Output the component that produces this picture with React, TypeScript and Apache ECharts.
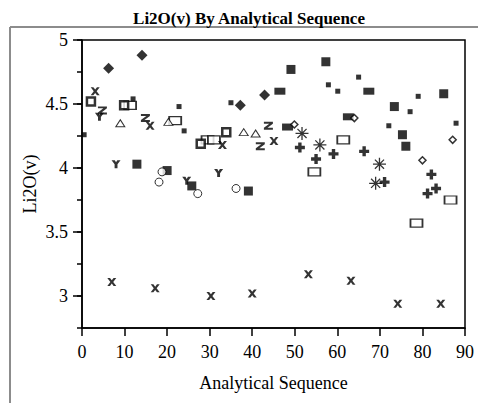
import React, { useEffect, useRef } from 'react';
import * as echarts from 'echarts';

const titleText = 'Li2O(v) By Analytical Sequence';
const xName = 'Analytical Sequence';
const yName = 'Li2O(v)';
const xTickValues = [0, 10, 20, 30, 40, 50, 60, 70, 80, 90];
const yMajorTicks = [3, 3.5, 4, 4.5, 5];
const yMinorTicks = [2.75, 3, 3.25, 3.5, 3.75, 4, 4.25, 4.5, 4.75, 5];

const filledDiamond = [[6.25, 4.78], [14.1, 4.88], [37.2, 4.49], [42.9, 4.57]];
const crossMarks = [[3.1, 4.6], [16, 4.33], [33, 4.18], [45.1, 4.21]];
const lowCross = [[7.0, 3.11], [17.2, 3.06], [30.3, 3.0], [40.0, 3.02], [53.2, 3.17], [63.2, 3.12], [74.2, 2.94], [84.3, 2.94]];
const openSquare = [[2.1, 4.52], [9.9, 4.49], [27.9, 4.19], [33.9, 4.28]];
const openRect = [[11.3, 4.49], [21.9, 4.37], [29.5, 4.22], [31.0, 4.22], [54.6, 3.97], [61.4, 4.22], [78.6, 3.57], [86.6, 3.75]];
const smallSquare = [[0.5, 4.26], [12, 4.54], [22.8, 4.48], [24, 4.29], [35, 4.51], [57.9, 4.65], [60.1, 4.6], [65, 4.71], [72.1, 4.33], [77.1, 4.44], [79, 4.56], [87.9, 4.35]];
const bigSquare = [[12.9, 4.03], [20, 3.98], [25.8, 3.86], [39.1, 3.82], [49.1, 4.77], [57.3, 4.83], [73.4, 4.48], [75.3, 4.26], [76.1, 4.17], [85, 4.58]];
const filledBar = [[46.5, 4.6], [67.4, 4.6], [48.3, 4.32], [62.6, 4.4]];
const openDiamond = [[49.9, 4.34], [64.0, 4.39], [87.1, 4.22], [80, 4.06]];
const openTriangle = [[9.0, 4.35], [20.3, 4.36], [38.0, 4.28], [40.8, 4.27]];
const yMarks = [[4.1, 4.4], [8.0, 4.03], [32.1, 3.96], [24.6, 3.9]];
const zMarks = [[4.8, 4.45], [14.9, 4.39], [41.9, 4.17], [43.8, 4.33]];
const openCircle = [[18.8, 3.97], [18.1, 3.89], [27.2, 3.8], [36.2, 3.84]];
const plusMarks = [[51.2, 4.16], [55.0, 4.07], [59.1, 4.11], [66.3, 4.13], [71.1, 3.89], [82.1, 3.95], [83.2, 3.84], [81.2, 3.8]];
const asterisks = [[51.7, 4.27], [55.9, 4.18], [69.9, 4.03], [69.0, 3.88]];

const X_PATH = 'path://M0,0H3L5,2.6L7,0H10L6.6,4.5L10,9H7L5,6.4L3,9H0L3.4,4.5Z';
const PLUS_PATH = 'path://M3.3,0H6.7V3.3H10V6.7H6.7V10H3.3V6.7H0V3.3H3.3Z';
const ASTER_PATH = 'path://M5,0V10M0,5H10M1.5,1.5L8.5,8.5M8.5,1.5L1.5,8.5';
const Y_PATH = 'path://M0,0H3.6L5,2.4L6.4,0H10L6.6,4.6V9H3.4V4.6Z';
const Z_PATH = 'path://M0,0H10V2.2L4,6.8H10V9H0V6.8L6,2.2H0Z';

const FONT = "'Liberation Serif', 'Times New Roman', serif";

export default function App() {
  const ref = useRef<HTMLDivElement>(null);
  useEffect(() => {
    if (!ref.current) return;
    const chart = echarts.init(ref.current, null, { renderer: 'svg' });
    const filled = { color: '#000' };
    const hollow = (w: number) => ({ color: '#fff', borderColor: '#000', borderWidth: w });
    const s = (name: string, data: number[][], symbol: string, size: any, itemStyle: any) => ({
      name, type: 'scatter', data, symbol, symbolSize: size, itemStyle, xAxisIndex: 0, yAxisIndex: 0,
    });
    chart.setOption({
      animation: false,
      backgroundColor: '#fff',
      graphic: [
        { type: 'line', shape: { x1: 10, y1: 27, x2: 478, y2: 27 }, style: { stroke: '#8c8c8c', lineWidth: 2 } },
        { type: 'line', shape: { x1: 10, y1: 27, x2: 10, y2: 403 }, style: { stroke: '#8c8c8c', lineWidth: 2 } },
        { type: 'text', x: 249, y: 18, style: { text: titleText, font: `bold 17px ${FONT}`, fill: '#000', textAlign: 'center', textVerticalAlign: 'middle' } },
      ],
      grid: { left: 82, right: 13, top: 40, bottom: 75, show: true, borderColor: '#000', borderWidth: 1.5, backgroundColor: 'transparent' },
      xAxis: {
        type: 'value', min: 0, max: 90, interval: 10,
        name: xName, nameLocation: 'middle', nameGap: 46,
        nameTextStyle: { fontFamily: FONT, fontSize: 18, color: '#000' },
        axisLine: { lineStyle: { color: '#000', width: 1.5 } },
        axisTick: { show: true, length: 8, lineStyle: { color: '#000', width: 1.5 }, customValues: xTickValues },
        axisLabel: { fontFamily: FONT, fontSize: 18, color: '#000', margin: 15, customValues: xTickValues },
        splitLine: { show: false },
      },
      yAxis: [
        {
          type: 'value', min: 2.75, max: 5, interval: 0.25, position: 'left',
          name: yName, nameLocation: 'middle', nameGap: 43,
          nameTextStyle: { fontFamily: FONT, fontSize: 18, color: '#000' },
          axisLine: { show: true, lineStyle: { color: '#000', width: 1.5 } },
          axisTick: { show: true, length: 5, lineStyle: { color: '#000', width: 1.5 }, customValues: yMinorTicks },
          axisLabel: { show: false },
          splitLine: { show: false },
        },
        {
          type: 'value', min: 2.75, max: 5, interval: 0.25, position: 'left', offset: 0,
          axisLine: { show: false },
          axisTick: { show: true, length: 9, lineStyle: { color: '#000', width: 1.5 }, customValues: yMajorTicks },
          axisLabel: { fontFamily: FONT, fontSize: 18, color: '#000', margin: 14, customValues: yMajorTicks },
          splitLine: { show: false },
        },
      ],
      series: [
        s('openRect', openRect, 'rect', [12, 8], hollow(1.5)),
        s('openSquare', openSquare, 'rect', [8, 8], hollow(2.5)),
        s('smallSquare', smallSquare, 'rect', [5, 5], filled),
        s('bigSquare', bigSquare, 'rect', [9, 9], filled),
        s('filledBar', filledBar, 'rect', [11, 7], filled),
        s('openDiamond', openDiamond, 'diamond', [7, 7], hollow(1.5)),
        s('openTriangle', openTriangle, 'triangle', [9, 7], hollow(1)),
        s('openCircle', openCircle, 'circle', [8, 8], hollow(1)),
        s('filledDiamond', filledDiamond, 'diamond', [11, 11], filled),
        s('cross', crossMarks, X_PATH, [9, 8], filled),
        s('lowCross', lowCross, X_PATH, [9, 8], filled),
        s('yMarks', yMarks, Y_PATH, [9, 8], filled),
        s('zMarks', zMarks, Z_PATH, [9, 8], filled),
        s('plus', plusMarks, PLUS_PATH, [10, 10], filled),
        s('asterisk', asterisks, ASTER_PATH, [13, 13], { color: 'transparent', borderColor: '#000', borderWidth: 1.3 }),
      ],
    });
    return () => chart.dispose();
  }, []);
  return <div ref={ref} style={{ width: 478, height: 403, position: 'absolute', left: 0, top: 0 }} />;
}
